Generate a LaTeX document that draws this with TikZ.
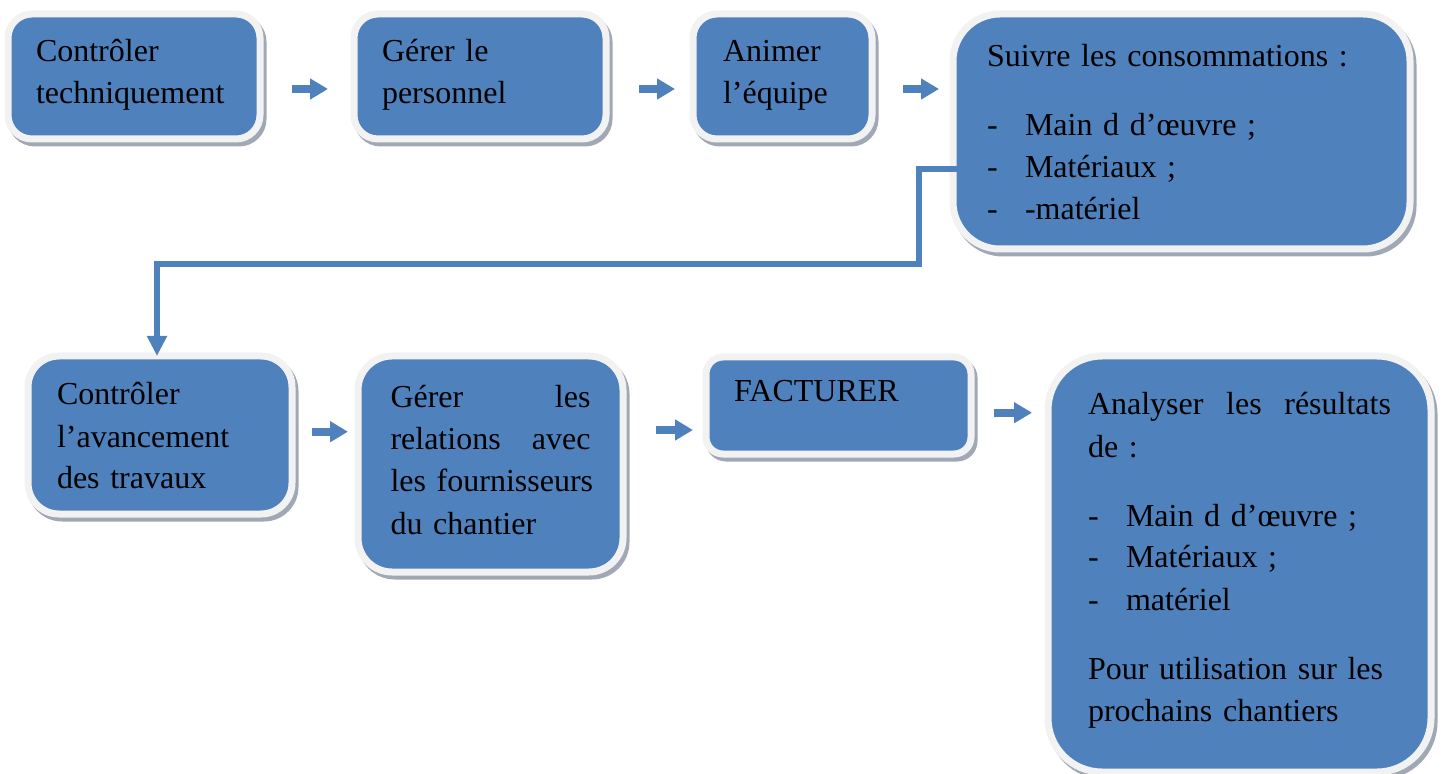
\documentclass[tikz,border=0pt]{standalone}
\usepackage{fontspec}
\setmainfont{Liberation Serif}
\usetikzlibrary{arrows.meta}
\definecolor{boxblue}{RGB}{79,129,189}
\definecolor{framegray}{RGB}{242,242,242}
\definecolor{shadowgray}{RGB}{160,168,182}
\tikzset{
  box/.style={anchor=north west, inner ysep=0pt, outer sep=0pt,
    fill=boxblue, draw=framegray, line width=3.5pt, align=left,
    font=\fontsize{16pt}{21pt}\selectfont, text=black,
    preaction={draw=shadowgray, fill=shadowgray, line width=3.5pt,
      transform canvas={xshift=1.5pt, yshift=-2pt}}},
  flow/.style={draw=boxblue, line width=4pt, -{Triangle[length=9pt,width=10pt]}},
  elbow/.style={draw=boxblue, line width=3pt, -{Triangle[length=10pt,width=9.5pt]}},
}
\newcommand{\dashitem}[1]{\makebox[19pt][l]{-}#1}
\newcommand{\fullline}[1]{\makebox[\linewidth][s]{#1}}
\begin{document}
\begin{tikzpicture}[x=0.5pt, y=-0.5pt]
\useasboundingbox (0,0) rectangle (1443,774);

% row 1
\node[box, rounded corners=12pt, inner xsep=14pt, text width=98pt,
  text height=24pt, text depth=38.5pt] (b1) at (8,14)
  {Contrôler\\techniquement};
\node[box, rounded corners=12pt, inner xsep=14pt, text width=98pt,
  text height=24pt, text depth=38.5pt] (b2) at (354,14)
  {Gérer le\\personnel};
\node[box, rounded corners=12pt, inner xsep=15pt, text width=59.5pt,
  text height=24pt, text depth=38.5pt] (b3) at (693,14)
  {Animer\\l’équipe};
\node[box, rounded corners=23.5pt, inner xsep=17pt, text width=194.5pt,
  text height=26.5pt, text depth=91pt] (b4) at (953,14)
  {Suivre les consommations :\\[13.5pt]
   \dashitem{Main d d’œuvre ;}\\
   \dashitem{Matériaux ;}\\
   \dashitem{-matériel}};

% row 2
\node[box, rounded corners=15.5pt, inner xsep=14.5pt, text width=103pt,
  text height=24.5pt, text depth=54.5pt] (b5) at (28,356)
  {Contrôler\\l’avancement\\des travaux};
\node[box, rounded corners=17pt, inner xsep=16.25pt, text width=100pt,
  text height=26pt, text depth=82pt] (b6) at (358,356)
  {\fullline{Gérer\hfill les}\\
   \fullline{relations\hfill avec}\\
   \fullline{les fournisseurs}\\
   du chantier};
\node[box, rounded corners=8.5pt, inner xsep=14pt, text width=104.5pt,
  text height=22.35pt, text depth=26.15pt] (b7) at (706,357)
  {FACTURER};
\node[box, rounded corners=27pt, inner xsep=20pt, text width=151.5pt,
  text height=29.5pt, text depth=178.5pt] (b8) at (1048,356)
  {\fullline{Analyser\hfill les\hfill résultats}\\
   de :\\[13.5pt]
   \dashitem{Main d d’œuvre ;}\\
   \dashitem{Matériaux ;}\\
   \dashitem{matériel}\\[13.5pt]
   Pour utilisation sur les\\
   prochains chantiers};

% connectors row 1
\draw[flow, shorten <=16pt, shorten >=13pt]
  ([yshift=-6.25pt]b1.east) -- ([yshift=-6.25pt]b2.west);
\draw[flow, shorten <=16.5pt, shorten >=9pt]
  ([yshift=-6.25pt]b2.east) -- ([yshift=-6.25pt]b3.west);
\draw[flow, shorten <=15.5pt, shorten >=7pt]
  ([yshift=-6.25pt]b3.east) -- ([yshift=-6.25pt]b3.east -| b4.west);

% elbow connector
\coordinate (e1) at (918.5,264.5);
\draw[elbow, shorten <=-2pt]
  ([yshift=-19pt]b4.west) -| (e1) -| ([xshift=-1.5pt]b5.north);

% connectors row 2
\draw[flow, shorten <=10pt, shorten >=5pt]
  ([yshift=1.65pt]b5.east) -- ([yshift=1.65pt]b5.east -| b6.west);
\draw[flow, shorten <=16.5pt, shorten >=6.5pt]
  ([yshift=17pt]b6.east) -- ([yshift=17pt]b6.east -| b7.west);
\draw[flow, shorten <=11.5pt, shorten >=8pt]
  ([yshift=-3.6pt]b7.east) -- ([yshift=-3.6pt]b7.east -| b8.west);
\end{tikzpicture}
\end{document}
